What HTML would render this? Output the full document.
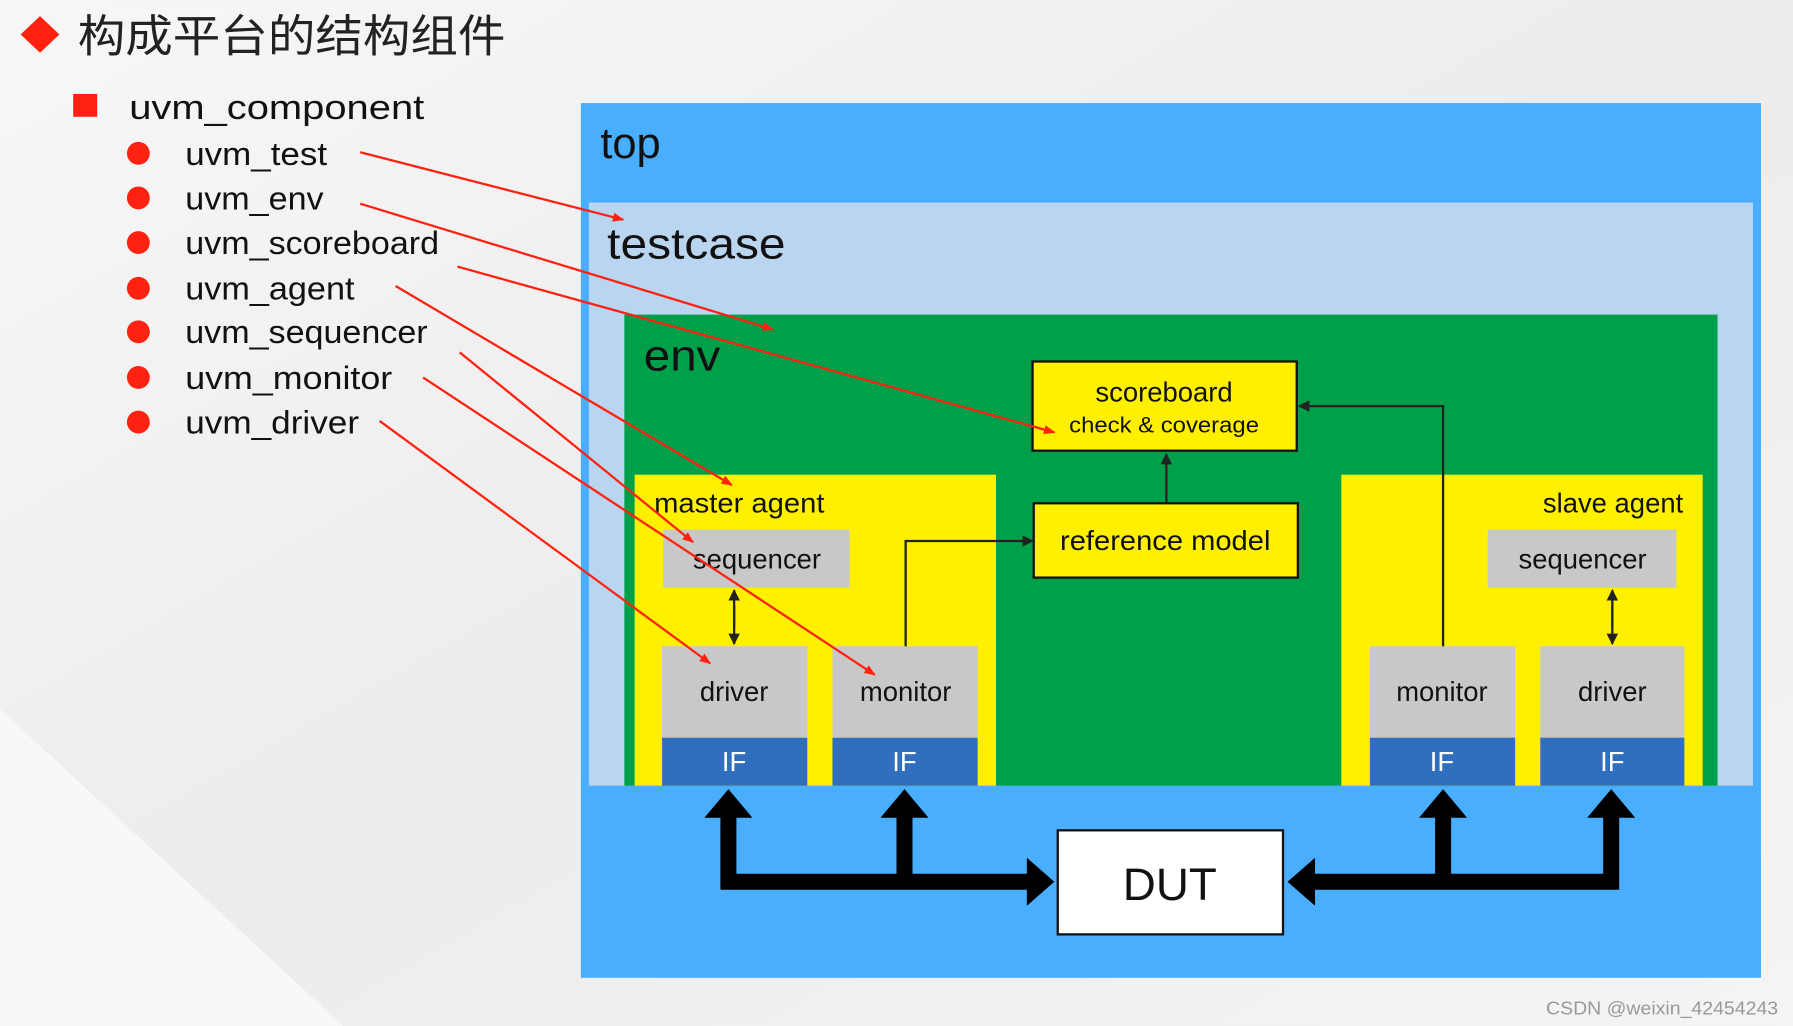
<!DOCTYPE html>
<html><head><meta charset="utf-8"><style>
html,body{margin:0;padding:0;width:1793px;height:1026px;overflow:hidden;background:#f0f0f0}
svg{display:block}
text{font-family:"Liberation Sans","Noto Sans CJK SC",sans-serif}
</style></head><body>
<svg width="1793" height="1026" viewBox="0 0 1568 897" xmlns="http://www.w3.org/2000/svg">
<defs>
<linearGradient id="bg" x1="0" y1="0" x2="1" y2="1">
<stop offset="0" stop-color="#f7f7f7"/><stop offset="0.5" stop-color="#ececec"/><stop offset="1" stop-color="#f4f4f4"/>
</linearGradient>
<marker id="ra" markerWidth="10" markerHeight="8" refX="9" refY="4" orient="auto" markerUnits="userSpaceOnUse"><path d="M0,0 L10,4 L0,8 z" fill="#f21"/></marker>
<marker id="ka" markerWidth="10" markerHeight="10" refX="9" refY="5" orient="auto" markerUnits="userSpaceOnUse"><path d="M0,0 L10,5 L0,10 z" fill="#222"/></marker>
</defs>
<rect width="1568" height="897" fill="url(#bg)"/>
<polygon points="0,620 300,897 0,897" fill="#f8f8f8"/>
<polygon points="35,14 52,30 35,46 18,30" fill="#f21"/>
<text x="68" y="45" font-size="39" fill="#222" textLength="374" lengthAdjust="spacingAndGlyphs">构成平台的结构组件</text>
<rect x="64" y="82" width="21" height="20" fill="#f21"/>
<text x="113" y="104" font-size="30" fill="#111" textLength="258" lengthAdjust="spacingAndGlyphs">uvm_component</text>
<g fill="#f21"><circle cx="121" cy="134" r="10"/><circle cx="121" cy="173" r="10"/><circle cx="121" cy="212" r="10"/><circle cx="121" cy="252" r="10"/><circle cx="121" cy="290" r="10"/><circle cx="121" cy="330" r="10"/><circle cx="121" cy="369" r="10"/></g>
<g font-size="28" fill="#111">
<text x="162" y="144" textLength="124" lengthAdjust="spacingAndGlyphs">uvm_test</text>
<text x="162" y="183" textLength="121" lengthAdjust="spacingAndGlyphs">uvm_env</text>
<text x="162" y="222" textLength="222" lengthAdjust="spacingAndGlyphs">uvm_scoreboard</text>
<text x="162" y="262" textLength="148" lengthAdjust="spacingAndGlyphs">uvm_agent</text>
<text x="162" y="300" textLength="212" lengthAdjust="spacingAndGlyphs">uvm_sequencer</text>
<text x="162" y="340" textLength="181" lengthAdjust="spacingAndGlyphs">uvm_monitor</text>
<text x="162" y="379" textLength="152" lengthAdjust="spacingAndGlyphs">uvm_driver</text>
</g>
<rect x="508" y="90" width="1032" height="765" fill="#4aaeff"/>
<text x="525" y="138" font-size="38" fill="#111">top</text>
<rect x="515" y="177" width="1018" height="510" fill="#b9d5ef"/>
<text x="531" y="226" font-size="38" fill="#111" textLength="156" lengthAdjust="spacingAndGlyphs">testcase</text>
<rect x="546" y="275" width="956" height="412" fill="#00a04a"/>
<text x="563" y="324" font-size="38" fill="#111" textLength="67" lengthAdjust="spacingAndGlyphs">env</text>
<rect x="555" y="415" width="316" height="272" fill="#fff000"/>
<text x="572" y="448" font-size="24" fill="#111" textLength="149" lengthAdjust="spacingAndGlyphs">master agent</text>
<rect x="1173" y="415" width="316" height="272" fill="#fff000"/>
<text x="1472" y="448" font-size="24" fill="#111" text-anchor="end">slave agent</text>
<g fill="#c8c8c8">
<rect x="580" y="463" width="163" height="51"/><rect x="1301" y="463" width="165" height="51"/>
<rect x="579" y="565" width="127" height="80"/><rect x="728" y="565" width="127" height="80"/>
<rect x="1198" y="565" width="127" height="80"/><rect x="1347" y="565" width="126" height="80"/>
</g>
<g fill="#2f6fbd">
<rect x="579" y="645" width="127" height="42"/><rect x="728" y="645" width="127" height="42"/>
<rect x="1198" y="645" width="127" height="42"/><rect x="1347" y="645" width="126" height="42"/>
</g>
<g font-size="24" fill="#111" text-anchor="middle">
<text x="662" y="497">sequencer</text><text x="1384" y="497">sequencer</text>
<text x="642" y="613">driver</text><text x="792" y="613">monitor</text>
<text x="1261" y="613">monitor</text><text x="1410" y="613">driver</text>
</g>
<g font-size="24" fill="#fff" text-anchor="middle">
<text x="642" y="674">IF</text><text x="791" y="674">IF</text><text x="1261" y="674">IF</text><text x="1410" y="674">IF</text>
</g>
<rect x="903" y="316" width="231" height="78" fill="#fff000" stroke="#111" stroke-width="2"/>
<text x="1018" y="351" font-size="24" text-anchor="middle" fill="#111">scoreboard</text>
<text x="1018" y="378" font-size="19" text-anchor="middle" fill="#111" textLength="166" lengthAdjust="spacingAndGlyphs">check &amp; coverage</text>
<rect x="904" y="440" width="231" height="65" fill="#fff000" stroke="#111" stroke-width="2"/>
<text x="1019" y="481" font-size="24" text-anchor="middle" fill="#111" textLength="184" lengthAdjust="spacingAndGlyphs">reference model</text>
<g stroke="#222" stroke-width="2" fill="none">
<line x1="1020" y1="439" x2="1020" y2="397" marker-end="url(#ka)"/>
<polyline points="1262,565 1262,355 1136,355" marker-end="url(#ka)"/>
<polyline points="792,565 792,473 903,473" marker-end="url(#ka)"/>
<line x1="642" y1="530" x2="642" y2="563" marker-end="url(#ka)"/>
<line x1="642" y1="548" x2="642" y2="516" marker-end="url(#ka)"/>
<line x1="1410" y1="530" x2="1410" y2="563" marker-end="url(#ka)"/>
<line x1="1410" y1="548" x2="1410" y2="516" marker-end="url(#ka)"/>
</g>
<rect x="925" y="726" width="197" height="91" fill="#fff" stroke="#111" stroke-width="2"/>
<text x="1023" y="787" font-size="40" text-anchor="middle" fill="#111">DUT</text>
<g fill="#000">
<path d="M630,778 L630,715 L616,715 L637,690 L658,715 L644,715 L644,764 L784,764 L784,715 L770,715 L791,690 L812,715 L798,715 L798,764 L898,764 L898,750 L922,771 L898,792 L898,778 Z"/>
<path d="M1416,778 L1416,715 L1430,715 L1409,690 L1388,715 L1402,715 L1402,764 L1269,764 L1269,715 L1283,715 L1262,690 L1241,715 L1255,715 L1255,764 L1150,764 L1150,750 L1126,771 L1150,792 L1150,778 Z"/>
</g>
<g stroke="#f21" stroke-width="2" marker-end="url(#ra)">
<line x1="315" y1="133" x2="545" y2="192"/>
<line x1="315" y1="178" x2="676" y2="288"/>
<line x1="400" y1="233" x2="922" y2="378"/>
<line x1="346" y1="250" x2="640" y2="424"/>
<line x1="402" y1="308" x2="606" y2="474"/>
<line x1="370" y1="330" x2="765" y2="590"/>
<line x1="332" y1="368" x2="621" y2="580"/>
</g>
<text x="1352" y="887" font-size="16" fill="#999" textLength="203" lengthAdjust="spacingAndGlyphs">CSDN @weixin_42454243</text>
</svg>
</body></html>
